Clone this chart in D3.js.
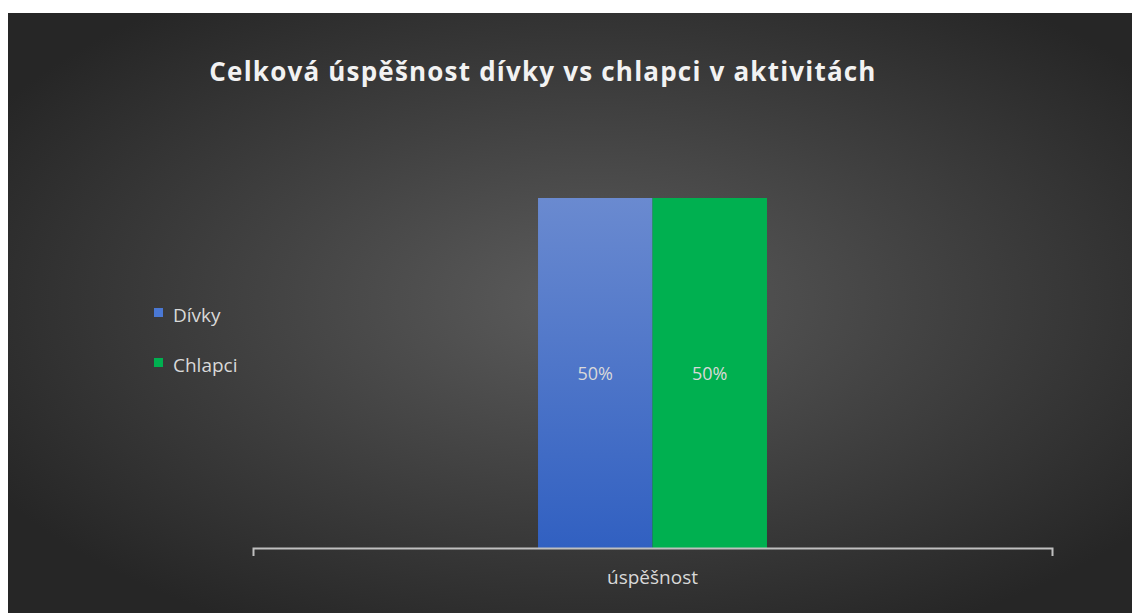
<!DOCTYPE html>
<html>
<head>
<meta charset="utf-8">
<script src="https://cdn.jsdelivr.net/npm/d3@7"></script>
<style>
  body { margin: 0; background: #fff; }
  svg { display: block; }
</style>
</head>
<body>
<svg width="1132" height="613"></svg>
<script>
// chart data
const categories = ['úspěšnost'];
const seriesNames = ['Dívky', 'Chlapci'];
const seriesValues = [0.5, 0.5];
const seriesColors = ['#4a78d4', '#00b050'];
const chartTitle = 'Celková úspěšnost dívky vs chlapci v aktivitách';

const svg = d3.select('svg');
const width = +svg.attr('width');
const height = +svg.attr('height');

const defs = svg.append('defs');

// radial background
const bg = defs.append('radialGradient')
  .attr('id', 'bgGrad')
  .attr('cx', '52%').attr('cy', '48%').attr('r', '62%');
bg.append('stop').attr('offset', '0%').attr('stop-color', '#5c5c5c');
bg.append('stop').attr('offset', '100%').attr('stop-color', '#262626');

// blue bar gradient
const blueGrad = defs.append('linearGradient')
  .attr('id', 'blueGrad')
  .attr('x1', 0).attr('y1', 0).attr('x2', 0).attr('y2', 1);
blueGrad.append('stop').attr('offset', '0%').attr('stop-color', '#6a8ad0');
blueGrad.append('stop').attr('offset', '100%').attr('stop-color', '#3160c1');

const fills = ['url(#blueGrad)', seriesColors[1]];

const frame = { x: 8, y: 13 };
svg.append('rect')
  .attr('x', frame.x).attr('y', frame.y)
  .attr('width', width - frame.x).attr('height', height - frame.y)
  .attr('fill', 'url(#bgGrad)');

// title
svg.append('text')
  .attr('x', 543).attr('y', 81)
  .attr('text-anchor', 'middle')
  .attr('fill', '#f2f2f2')
  .style('font-family', '"Open Sans", sans-serif')
  .style('font-weight', 'bold')
  .style('font-size', '26px')
  .style('letter-spacing', '1.2px')
  .text(chartTitle);

// plot area
const plot = { left: 253, right: 1052, top: 128, bottom: 548 };

const x0 = d3.scaleBand()
  .domain(categories)
  .range([plot.left, plot.right]);

const x1 = d3.scaleBand()
  .domain(seriesNames)
  .range([0, x0.bandwidth()])
  .paddingInner(0)
  .paddingOuter(2.49);

const y = d3.scaleLinear()
  .domain([0, 0.6])
  .range([plot.bottom, plot.top]);

const barsG = svg.append('g');

categories.forEach(cat => {
  const g = barsG.append('g').attr('transform', `translate(${x0(cat)},0)`);
  g.selectAll('rect')
    .data(seriesNames.map((s, i) => ({ s, v: seriesValues[i], i })))
    .join('rect')
      .attr('x', d => x1(d.s))
      .attr('y', d => y(d.v))
      .attr('width', x1.bandwidth())
      .attr('height', d => y(0) - y(d.v))
      .attr('fill', d => fills[d.i]);

  g.selectAll('text.val')
    .data(seriesNames.map((s, i) => ({ s, v: seriesValues[i] })))
    .join('text')
      .attr('class', 'val')
      .attr('x', d => x1(d.s) + x1.bandwidth() / 2)
      .attr('y', d => y(d.v / 2) + 7)
      .attr('text-anchor', 'middle')
      .attr('fill', '#d9d9d9')
      .style('font-family', '"Open Sans", sans-serif')
      .style('font-size', '18px')
      .text(d => d3.format('.0%')(d.v));
});

// category axis
const axis = d3.axisBottom(x0).tickSize(0).tickSizeOuter(8);
const axisG = svg.append('g')
  .attr('transform', `translate(0,${plot.bottom})`)
  .call(axis);
axisG.select('.domain')
  .attr('stroke', '#bfbfbf')
  .attr('stroke-width', 2);
axisG.selectAll('.tick text')
  .attr('dy', '1.75em')
  .attr('fill', '#d9d9d9')
  .style('font-family', '"Open Sans", sans-serif')
  .style('font-size', '19px');

// legend
const legendG = svg.append('g').attr('transform', 'translate(154,308)');
const legendItem = legendG.selectAll('g')
  .data(seriesNames)
  .join('g')
    .attr('transform', (d, i) => `translate(0,${i * 50})`);
legendItem.append('rect')
  .attr('width', 9).attr('height', 9)
  .attr('fill', (d, i) => seriesColors[i]);
legendItem.append('text')
  .attr('x', 19).attr('y', 14)
  .attr('fill', '#d9d9d9')
  .style('font-family', '"Open Sans", sans-serif')
  .style('font-size', '19px')
  .text(d => d);
</script>
</body>
</html>
